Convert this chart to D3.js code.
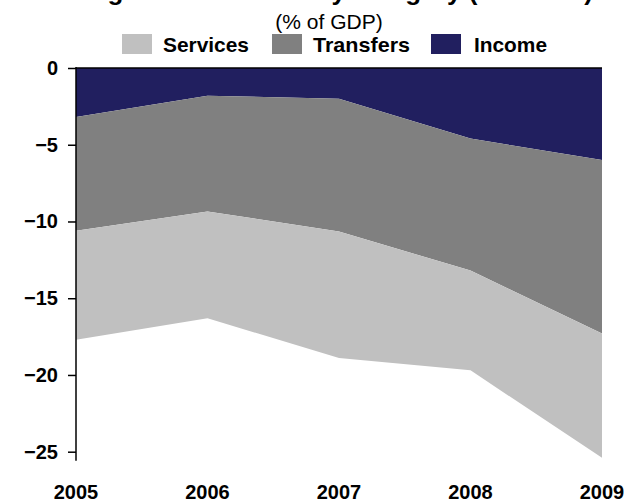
<!DOCTYPE html>
<html><head><meta charset="utf-8">
<script src="https://cdn.jsdelivr.net/npm/d3@7"></script>
<style>body{margin:0;background:#fff}svg{display:block}text{font-family:"Liberation Sans",Arial,Helvetica,sans-serif}</style>
</head><body><svg id="c" width="627" height="504"></svg>
<script>
const years = [2005, 2006, 2007, 2008, 2009];
const seriesNames = ["Income", "Transfers", "Services"];
const income = [-3.2, -1.8, -2.0, -4.6, -6.0];
const transfers = [-7.4, -7.55, -8.65, -8.6, -11.3];
const services = [-7.1, -6.95, -8.25, -6.5, -8.1];
const yTicks = [0, -5, -10, -15, -20, -25];
const colors = {Services: "#c0c0c0", Transfers: "#808080", Income: "#211f5f"};
const legendOrder = ["Services", "Transfers", "Income"];

const rows = years.map((y, i) => ({year: y, Income: income[i], Transfers: transfers[i], Services: services[i]}));
const svg = d3.select("#c");
const x = d3.scalePoint().domain(years).range([76, 602]);
const y = d3.scaleLinear().domain([0, -25]).range([68, 451.7]);

const stack = d3.stack().keys(seriesNames).offset(d3.stackOffsetDiverging);
const layers = stack(rows);
const area = d3.area().x(d => x(d.data.year)).y0(d => y(d[0])).y1(d => y(d[1]));
svg.append("g").selectAll("path").data(layers).join("path")
  .attr("d", area).attr("fill", d => colors[d.key]);

// top baseline
svg.append("line").attr("x1", 76).attr("x2", 602).attr("y1", y(0)).attr("y2", y(0))
  .attr("stroke", "#000").attr("stroke-width", 1.5);

// y axis
const yAxis = d3.axisLeft(y).tickValues(yTicks).tickSize(8).tickPadding(10).tickFormat(d3.format("d"));
const ga = svg.append("g").attr("transform", "translate(76,0)").call(yAxis);
ga.select(".domain").remove();
ga.append("line").attr("x1", 0).attr("x2", 0).attr("y1", 67).attr("y2", 460.7).attr("stroke", "#000").attr("stroke-width", 1.5);
ga.selectAll(".tick line").attr("stroke-width", 1.5);
ga.selectAll(".tick text").attr("font-size", 20).attr("font-weight", "bold").attr("fill", "#000")
  .attr("font-family", "Liberation Sans, Arial, sans-serif");

// x labels
svg.append("g").selectAll("text").data(years).join("text")
  .attr("x", d => x(d)).attr("y", 499).attr("text-anchor", "middle")
  .attr("font-size", 20).attr("font-weight", "bold").text(d => d);

// title (mostly above the top edge, as in the reference)
svg.append("text").attr("x", 593).attr("y", 0).attr("text-anchor", "end")
  .attr("font-size", 26).attr("font-weight", "bold").text("Figure 4: Negative invisibles by category (outflows)");
svg.append("text").attr("x", 329).attr("y", 29).attr("text-anchor", "middle")
  .attr("font-size", 21).text("(% of GDP)");

// legend
const leg = [{k: "Services", sx: 122, tx: 163, w: 86}, {k: "Transfers", sx: 272, tx: 313, w: 97}, {k: "Income", sx: 431, tx: 474, w: 73}];
const lg = svg.append("g");
leg.forEach(l => {
  lg.append("rect").attr("x", l.sx).attr("y", 34).attr("width", 30).attr("height", 20).attr("fill", colors[l.k]);
  lg.append("text").attr("x", l.tx).attr("y", 52).attr("font-size", 21).attr("font-weight", "bold")
    .attr("textLength", l.w).attr("lengthAdjust", "spacingAndGlyphs").text(l.k);
});
</script></body></html>
